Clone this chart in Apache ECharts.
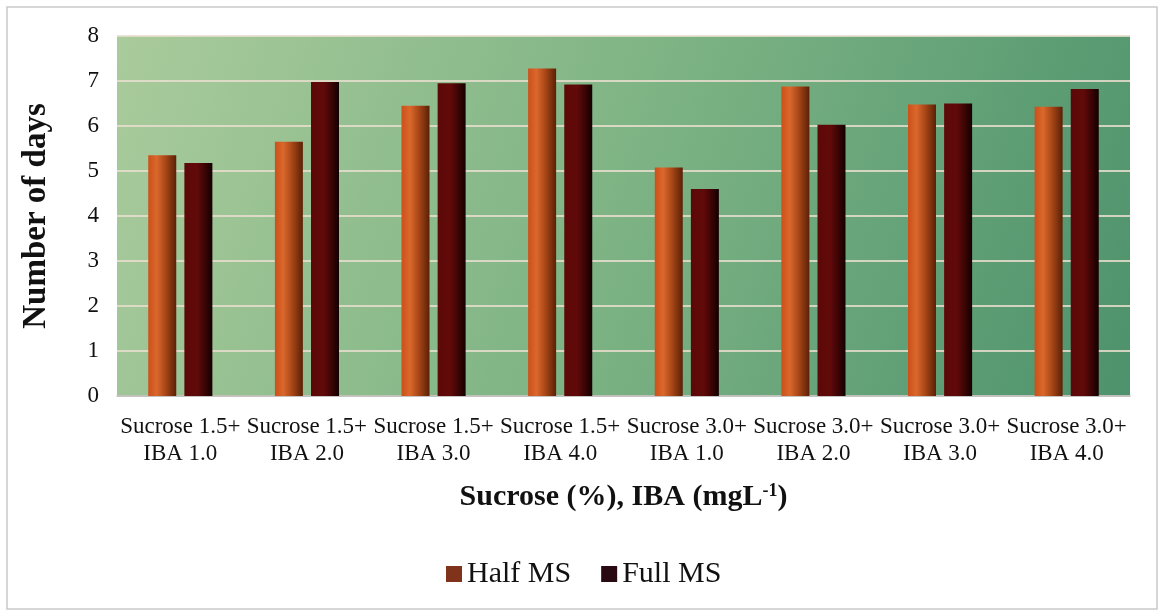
<!DOCTYPE html>
<html>
<head>
<meta charset="utf-8">
<title>Number of days – Sucrose and IBA</title>
<script src="https://cdn.jsdelivr.net/npm/echarts@6/dist/echarts.min.js"></script>
<style>
  html, body { margin: 0; padding: 0; background: #ffffff; }
  #chart { width: 1168px; height: 611px; }
</style>
</head>
<body>
<div id="chart"></div>
<script>
// Treatments (sucrose %, IBA mg/L)
const categories = [
  'Sucrose 1.5+\nIBA 1.0', 'Sucrose 1.5+\nIBA 2.0', 'Sucrose 1.5+\nIBA 3.0', 'Sucrose 1.5+\nIBA 4.0',
  'Sucrose 3.0+\nIBA 1.0', 'Sucrose 3.0+\nIBA 2.0', 'Sucrose 3.0+\nIBA 3.0', 'Sucrose 3.0+\nIBA 4.0'
];
// Number of days for each medium
const halfMS = [5.35, 5.65, 6.45, 7.28, 5.08, 6.88, 6.48, 6.43];
const fullMS = [5.18, 6.98, 6.95, 6.92, 4.6, 6.03, 6.5, 6.82];
const yTicks = [0, 1, 2, 3, 4, 5, 6, 7, 8];

const serif = '"Liberation Serif", "Times New Roman", serif';

const halfFill = {
  type: 'linear', x: 0, y: 0, x2: 1, y2: 0,
  colorStops: [
    { offset: 0, color: '#cc501a' },
    { offset: 0.3, color: '#da682c' },
    { offset: 0.6, color: '#ab4818' },
    { offset: 1, color: '#5a2006' }
  ]
};
const fullFill = {
  type: 'linear', x: 0, y: 0, x2: 1, y2: 0,
  colorStops: [
    { offset: 0, color: '#5c0808' },
    { offset: 0.45, color: '#620a0a' },
    { offset: 0.75, color: '#3a0404' },
    { offset: 1, color: '#120000' }
  ]
};

const chart = echarts.init(document.getElementById('chart'));
chart.setOption({
  animation: false,
  backgroundColor: '#ffffff',
  graphic: [{
    type: 'rect',
    shape: { x: 7, y: 7, width: 1150, height: 602 },
    style: { fill: 'none', stroke: '#c9c9c9', lineWidth: 1.5 },
    silent: true
  }],
  grid: {
    left: 117, right: 38, top: 36, bottom: 215,
    show: true,
    borderWidth: 0,
    backgroundColor: {
      type: 'linear', x: 0, y: 0, x2: 1, y2: 1,
      colorStops: [
        { offset: 0, color: '#aacb9c' },
        { offset: 0.5, color: '#7db384' },
        { offset: 1, color: '#4d926c' }
      ]
    }
  },
  legend: {
    left: 441, top: 554,
    itemWidth: 16, itemHeight: 16, itemGap: 30,
    icon: 'rect',
    textStyle: { fontFamily: serif, fontSize: 30, color: '#111' },
    data: [
      { name: 'Half MS', itemStyle: { color: '#80331a' } },
      { name: 'Full MS', itemStyle: { color: '#2a0a12' } }
    ]
  },
  xAxis: {
    type: 'category',
    data: categories,
    axisTick: { show: false },
    axisLine: { show: true, lineStyle: { color: '#b9b9b9', width: 1.5 } },
    axisLabel: {
      interval: 0, margin: 17,
      fontFamily: serif, fontSize: 23, lineHeight: 27, color: '#111'
    },
    name: '{a|Sucrose (%), IBA (mgL}{s|-1}{a|)}',
    nameLocation: 'middle',
    nameGap: 86,
    nameTextStyle: {
      rich: {
        a: { fontFamily: serif, fontSize: 30, fontWeight: 'bold', color: '#111' },
        s: { fontFamily: serif, fontSize: 18, fontWeight: 'bold', color: '#111', verticalAlign: 'top', padding: [0, 0, 12, 0] }
      }
    }
  },
  yAxis: {
    type: 'value',
    min: yTicks[0], max: yTicks[yTicks.length - 1], interval: 1,
    axisLine: { show: false },
    axisTick: { show: false },
    axisLabel: { margin: 18, fontFamily: serif, fontSize: 23, color: '#111' },
    splitLine: { lineStyle: { color: 'rgba(232,222,206,0.85)', width: 2 } },
    name: 'Number of days',
    nameLocation: 'middle',
    nameGap: 64,
    nameTextStyle: { fontFamily: serif, fontSize: 33, fontWeight: 'bold', color: '#111' }
  },
  series: [
    {
      name: 'Half MS', type: 'bar', data: halfMS,
      barWidth: 28, barGap: '29%',
      itemStyle: { color: halfFill }
    },
    {
      name: 'Full MS', type: 'bar', data: fullMS,
      barWidth: 28,
      itemStyle: { color: fullFill }
    }
  ]
});
</script>
</body>
</html>
